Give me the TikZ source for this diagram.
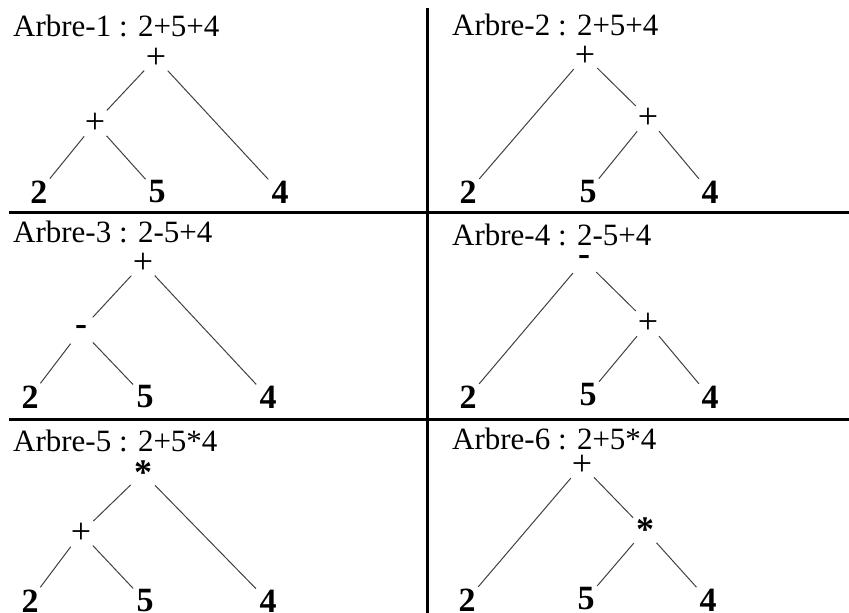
\documentclass[tikz,border=0pt]{standalone}
\usepackage{fontspec}
\setmainfont{Liberation Serif}
\usepackage{tikz}

\begin{document}
\begin{tikzpicture}[x=1pt,y=-1pt,
  op/.style={circle,inner sep=0pt,minimum size=34pt,font=\fontsize{36}{36}\selectfont},
  bop/.style={op,font=\fontsize{36}{36}\selectfont\bfseries},
  leaf/.style={op,font=\fontsize{34}{34}\selectfont\bfseries},
  title/.style={anchor=base west,inner sep=0pt,font=\fontsize{31}{31}\selectfont},
  edge/.style={line width=1pt,black!75},
  rule/.style={line width=3pt}]
  \useasboundingbox (0,0) rectangle (849,613);
  \draw[rule] (9,212) -- (849,212);
  \draw[rule] (9,419) -- (849,419);
  \draw[rule] (427,8) -- (427,613);

  \node[title] (t1) at (13,36) {Arbre-1 : 2+5+4};
  \node[op] (a0) at (156,58) {+};
  \node[op] (a1) at (95,123) {+};
  \node[leaf] (a2) at (39,192) {2};
  \node[leaf] (a5) at (157,192) {5};
  \node[leaf] (a4) at (280,192) {4};
  \draw[edge] (a0) -- (a1) (a0) -- (a4) (a1) -- (a2) (a1) -- (a5);

  \node[title] (t2) at (452,35) {Arbre-2 : 2+5+4};
  \node[op] (b0) at (585,56) {+};
  \node[op] (b1) at (648,118) {+};
  \node[leaf] (b2) at (468,192) {2};
  \node[leaf] (b5) at (588,192) {5};
  \node[leaf] (b4) at (710,192) {4};
  \draw[edge] (b0) -- (b2) (b0) -- (b1) (b1) -- (b5) (b1) -- (b4);

  \node[title] (t3) at (13,242) {Arbre-3 : 2-5+4};
  \node[op] (c0) at (143,263) {+};
  \node[bop] (c1) at (81,330) {-};
  \node[leaf] (c2) at (30,397) {2};
  \node[leaf] (c5) at (145,397) {5};
  \node[leaf] (c4) at (268,397) {4};
  \draw[edge] (c0) -- (c1) (c0) -- (c4) (c1) -- (c2) (c1) -- (c5);

  \node[title] (t4) at (452,245) {Arbre-4 : 2-5+4};
  \node[bop] (d0) at (584,260) {-};
  \node[op] (d1) at (648,323) {+};
  \node[leaf] (d2) at (468,397) {2};
  \node[leaf] (d5) at (588,395) {5};
  \node[leaf] (d4) at (710,397) {4};
  \draw[edge] (d0) -- (d2) (d0) -- (d1) (d1) -- (d5) (d1) -- (d4);

  \node[title] (t5) at (13,451) {Arbre-5 : 2+5*4};
  \node[bop] (e0) at (143,473) {*};
  \node[op] (e1) at (81,533) {+};
  \node[leaf] (e2) at (30,601) {2};
  \node[leaf] (e5) at (145,601) {5};
  \node[leaf] (e4) at (268,601) {4};
  \draw[edge] (e0) -- (e1) (e0) -- (e4) (e1) -- (e2) (e1) -- (e5);

  \node[title] (t6) at (452,449) {Arbre-6 : 2+5*4};
  \node[op] (f0) at (582,465) {+};
  \node[bop] (f1) at (645,530) {*};
  \node[leaf] (f2) at (467,600) {2};
  \node[leaf] (f5) at (586,599) {5};
  \node[leaf] (f4) at (708,600) {4};
  \draw[edge] (f0) -- (f2) (f0) -- (f1) (f1) -- (f5) (f1) -- (f4);
\end{tikzpicture}
\end{document}
